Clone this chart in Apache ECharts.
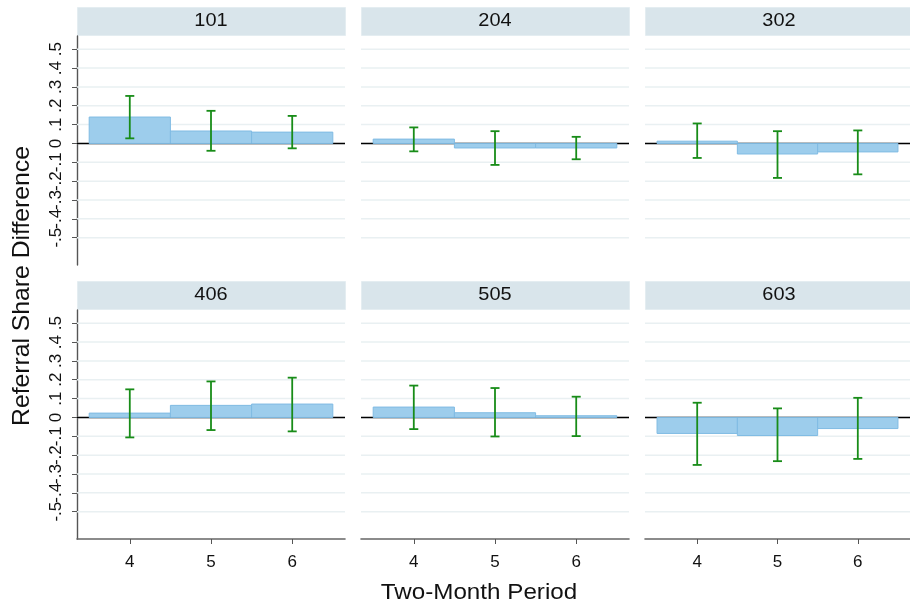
<!DOCTYPE html>
<html>
<head>
<meta charset="utf-8">
<script src="https://cdn.jsdelivr.net/npm/echarts@6/dist/echarts.min.js"></script>
<style>html,body{margin:0;padding:0;background:#fff}#chart{width:910px;height:606px}</style>
</head>
<body>
<div id="chart"></div>
<script>
// ---- data ----
const panels = ['101', '204', '302', '406', '505', '603'];
const periods = [4, 5, 6];
const yTicks = [-0.5, -0.4, -0.3, -0.2, -0.1, 0, 0.1, 0.2, 0.3, 0.4, 0.5];
const yTickLabels = ['-.5', '-.4', '-.3', '-.2', '-.1', '0', '.1', '.2', '.3', '.4', '.5'];

const diff101 = [0.140, 0.066, 0.060];
const lo101 = [0.027, -0.039, -0.026];
const hi101 = [0.252, 0.173, 0.146];

const diff204 = [0.023, -0.024, -0.024];
const lo204 = [-0.042, -0.114, -0.084];
const hi204 = [0.085, 0.065, 0.035];

const diff302 = [0.012, -0.056, -0.045];
const lo302 = [-0.077, -0.183, -0.164];
const hi302 = [0.106, 0.065, 0.069];

const diff406 = [0.023, 0.064, 0.071];
const lo406 = [-0.106, -0.067, -0.074];
const hi406 = [0.149, 0.191, 0.211];

const diff505 = [0.055, 0.025, 0.009];
const lo505 = [-0.062, -0.101, -0.099];
const hi505 = [0.169, 0.156, 0.110];

const diff603 = [-0.085, -0.096, -0.059];
const lo603 = [-0.252, -0.232, -0.220];
const hi603 = [0.078, 0.048, 0.104];

const xTitle = 'Two-Month Period';
const yTitle = 'Referral Share Difference';

// ---- layout / style ----
const diffs = [diff101, diff204, diff302, diff406, diff505, diff603];
const los = [lo101, lo204, lo302, lo406, lo505, lo603];
const his = [hi101, hi204, hi302, hi406, hi505, hi603];

const FONT = '"Liberation Sans", Arial, sans-serif';
const gridLeft0 = 77, colStep = 284, gridW = 268;
const rowTop = [36, 310], gridH = 229;
const headerTop = [7, 281], headerH = 28;

const grids = [], xAxes = [], yAxes = [], series = [], graphics = [];

panels.forEach((name, i) => {
  const col = i % 3, row = Math.floor(i / 3);
  const left = gridLeft0 + col * colStep;
  grids.push({ left: left, top: rowTop[row], width: gridW, height: gridH, containLabel: false });

  xAxes.push({
    type: 'value', gridIndex: i, min: 3.35, max: 6.65,
    axisLine: { show: row === 1, onZero: false, lineStyle: { color: '#666', width: 1.6 } },
    axisTick: { show: row === 1, customValues: periods, length: 5, lineStyle: { color: '#555', width: 1 } },
    axisLabel: { show: row === 1, customValues: periods, fontSize: 17, margin: 15, color: '#111', fontFamily: FONT, hideOverlap: false },
    splitLine: { show: false }
  });

  yAxes.push({
    type: 'value', gridIndex: i, min: -0.645, max: 0.57,
    axisLine: { show: col === 0, onZero: false, lineStyle: { color: '#555', width: 1.4 } },
    axisTick: { show: col === 0, customValues: yTicks, length: 5, lineStyle: { color: '#555', width: 1 } },
    axisLabel: { show: false },
    splitLine: { show: false }
  });

  // y tick labels (left column only), placed through the y scale
  if (col === 0) {
    series.push({
      type: 'custom', xAxisIndex: i, yAxisIndex: i, silent: true, z: 5, clip: false,
      data: yTicks.map((v, k) => [v, k]),
      renderItem: function (params, api) {
        const cs = params.coordSys;
        const p = api.coord([4, api.value(0)]);
        return { type: 'text', x: cs.x - 12, y: p[1], rotation: Math.PI / 2,
          style: { text: yTickLabels[api.value(1)], fontSize: 17, fontFamily: FONT, fill: '#111',
            align: 'center', verticalAlign: 'bottom' } };
      }
    });
  }

  // gridlines
  series.push({
    type: 'custom', xAxisIndex: i, yAxisIndex: i, silent: true, z: 1,
    data: yTicks.map(v => [v]),
    renderItem: function (params, api) {
      const cs = params.coordSys;
      const p = api.coord([4, api.value(0)]);
      return { type: 'line', shape: { x1: cs.x, y1: p[1], x2: cs.x + cs.width, y2: p[1] },
        style: { stroke: '#e9f0f2', lineWidth: 1.5 } };
    }
  });
  // zero line
  series.push({
    type: 'custom', xAxisIndex: i, yAxisIndex: i, silent: true, z: 2,
    data: [[0]],
    renderItem: function (params, api) {
      const cs = params.coordSys;
      const p = api.coord([4, api.value(0)]);
      return { type: 'line', shape: { x1: cs.x, y1: p[1], x2: cs.x + cs.width, y2: p[1] },
        style: { stroke: '#000', lineWidth: 1.5 } };
    }
  });
  // bars
  series.push({
    type: 'custom', xAxisIndex: i, yAxisIndex: i, z: 3,
    data: periods.map((p, k) => [p, diffs[i][k]]),
    renderItem: function (params, api) {
      const x = api.value(0), v = api.value(1);
      const a = api.coord([x - 0.5, v]);
      const b = api.coord([x + 0.5, 0]);
      return { type: 'rect',
        shape: { x: a[0], y: Math.min(a[1], b[1]), width: b[0] - a[0], height: Math.abs(b[1] - a[1]) },
        style: { fill: '#9dcdec', stroke: '#80bbe3', lineWidth: 1 } };
    }
  });
  // error bars
  series.push({
    type: 'custom', xAxisIndex: i, yAxisIndex: i, z: 4,
    data: periods.map((p, k) => [p, los[i][k], his[i][k]]),
    renderItem: function (params, api) {
      const x = api.value(0);
      const lo = api.coord([x, api.value(1)]);
      const hi = api.coord([x, api.value(2)]);
      const c = 4.5;
      const st = { stroke: '#188c18', lineWidth: 1.8 };
      return { type: 'group', children: [
        { type: 'line', shape: { x1: lo[0], y1: lo[1], x2: hi[0], y2: hi[1] }, style: st },
        { type: 'line', shape: { x1: lo[0] - c, y1: lo[1], x2: lo[0] + c, y2: lo[1] }, style: st },
        { type: 'line', shape: { x1: hi[0] - c, y1: hi[1], x2: hi[0] + c, y2: hi[1] }, style: st }
      ] };
    }
  });

  // header strip
  graphics.push({ type: 'rect', left: left, top: headerTop[row], shape: { width: gridW, height: headerH },
    style: { fill: '#d9e5eb', stroke: '#e4edf1', lineWidth: 1 }, silent: true });
  graphics.push({ type: 'text', x: left + gridW / 2, y: headerTop[row] + 14, scaleX: 1.05,
    style: { text: name, fontSize: 19, fontFamily: FONT, fill: '#111', align: 'center', verticalAlign: 'middle' }, silent: true });
});

graphics.push({ type: 'text', x: 479, y: 593, scaleX: 1.1,
  style: { text: xTitle, fontSize: 22, fontFamily: FONT, fill: '#111', align: 'center', verticalAlign: 'middle' } });
graphics.push({ type: 'text', x: 22, y: 286, rotation: Math.PI / 2, scaleX: 1.03,
  style: { text: yTitle, fontSize: 24, fontFamily: FONT, fill: '#111', align: 'center', verticalAlign: 'middle' } });

const chart = echarts.init(document.getElementById('chart'), null, { renderer: 'canvas' });
chart.setOption({
  animation: false,
  backgroundColor: '#fff',
  grid: grids,
  xAxis: xAxes,
  yAxis: yAxes,
  series: series,
  graphic: { elements: graphics }
});
</script>
</body>
</html>
